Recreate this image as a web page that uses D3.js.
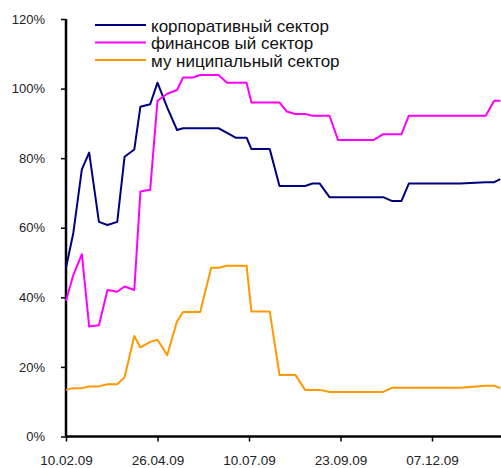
<!DOCTYPE html>
<html><head><meta charset="utf-8">
<script src="https://cdn.jsdelivr.net/npm/d3@7"></script>
<style>
html,body{margin:0;padding:0;background:#fff;}
svg{display:block;font-family:"Liberation Sans",Arial,sans-serif;}
</style></head>
<body>
<svg id="chart" width="501" height="468"></svg>
<script>
const dates = ["10.02.09","16.02.09","23.02.09","01.03.09","09.03.09","16.03.09","24.03.09","30.03.09","07.04.09","12.04.09","20.04.09","26.04.09","04.05.09","12.05.09","17.05.09","25.05.09","31.05.09","09.06.09","15.06.09","22.06.09","29.06.09","08.07.09","12.07.09","27.07.09","04.08.09","10.08.09","17.08.09","25.08.09","31.08.09","06.09.09","14.09.09","21.09.09","20.10.09","28.10.09","04.11.09","12.11.09","18.11.09","30.12.09","20.01.10","27.01.10","01.02.10"];
const corporate = [48.5,58.5,76.8,81.6,61.7,60.8,61.7,80.4,82.5,94.8,95.5,101.7,94.5,88.1,88.6,88.6,88.6,88.6,88.6,87.3,85.9,85.9,82.6,82.6,72.0,72.0,72.0,72.0,72.7,72.7,68.8,68.8,68.8,68.8,67.7,67.7,72.7,72.7,73.1,73.1,74.0];
const financial = [39.0,46.4,52.4,31.6,32.0,42.1,41.6,43.1,42.1,70.4,70.9,96.5,98.5,99.6,103.2,103.2,103.9,103.9,103.9,101.7,101.7,101.7,96.0,96.0,96.0,93.4,92.7,92.7,92.2,92.2,92.2,85.2,85.2,86.9,86.9,86.9,92.2,92.2,92.2,96.5,96.5];
const municipal = [13.4,13.9,13.9,14.4,14.4,15.0,15.0,17.0,28.9,25.6,27.2,27.8,23.4,33.1,35.8,35.8,35.8,48.5,48.5,49.1,49.1,49.1,35.9,35.9,17.7,17.7,17.7,13.4,13.4,13.4,12.8,12.8,12.8,12.8,14.0,14.0,14.0,14.0,14.6,14.6,13.9];
const seriesNames = ["корпоративный сектор","финансов ый сектор","му ниципальный сектор"];
const seriesColors = ["#000080","#FF00FF","#FF9900"];
const xTickLabels = ["10.02.09","26.04.09","10.07.09","23.09.09","07.12.09"];
const yTicks = [0,20,40,60,80,100,120];

const parse = d3.timeParse("%d.%m.%y");
const fmt = d3.timeFormat("%d.%m.%y");
const svg = d3.select("#chart");

const x = d3.scaleTime()
  .domain([parse(xTickLabels[0]), parse(xTickLabels[xTickLabels.length-1])])
  .range([66, 432]);
const y = d3.scaleLinear().domain([0,120]).range([436.5, 19]);

// y axis
const yAxis = d3.axisLeft(y).tickValues(yTicks).tickSize(5).tickPadding(16)
  .tickFormat(d => d + "%");
const gy = svg.append("g").attr("transform","translate(66,0)").call(yAxis);
gy.select(".domain").attr("stroke","#000").attr("stroke-width",2.5).attr("d","M0,436.5V19");
gy.selectAll(".tick line").attr("stroke","#000").attr("stroke-width",1.5);
gy.selectAll(".tick text").attr("font-size","13px").attr("fill","#222")
  .attr("font-family","'Liberation Sans',Arial,sans-serif");

// x axis
const xAxis = d3.axisBottom(x).tickValues(xTickLabels.map(parse)).tickSize(5).tickPadding(14)
  .tickFormat(fmt);
const gx = svg.append("g").attr("transform","translate(0,436.5)").call(xAxis);
gx.select(".domain").attr("stroke","#000").attr("stroke-width",2.5).attr("d","M66,0H501");
gx.selectAll(".tick line").attr("stroke","#000").attr("stroke-width",1.5);
gx.selectAll(".tick text").attr("font-size","13.5px").attr("fill","#222")
  .attr("font-family","'Liberation Sans',Arial,sans-serif");

// lines
const parsedDates = dates.map(parse);
const allSeries = [corporate, financial, municipal];
const line = d3.line().x((d,i) => x(parsedDates[i])).y(d => y(d));
allSeries.forEach((s, k) => {
  svg.append("path").datum(s).attr("d", line)
    .attr("fill","none").attr("stroke", seriesColors[k]).attr("stroke-width",2)
    .attr("stroke-linejoin","round");
});

// legend
const legend = svg.append("g");
seriesNames.forEach((n, k) => {
  const yy = 25 + k * 17.5;
  legend.append("line").attr("x1",95).attr("x2",146).attr("y1",yy).attr("y2",yy)
    .attr("stroke", seriesColors[k]).attr("stroke-width",2);
  legend.append("text").attr("x",151).attr("y",yy+6.5).text(n)
    .attr("font-size","17px").attr("fill","#111");
});
</script>
</body></html>
